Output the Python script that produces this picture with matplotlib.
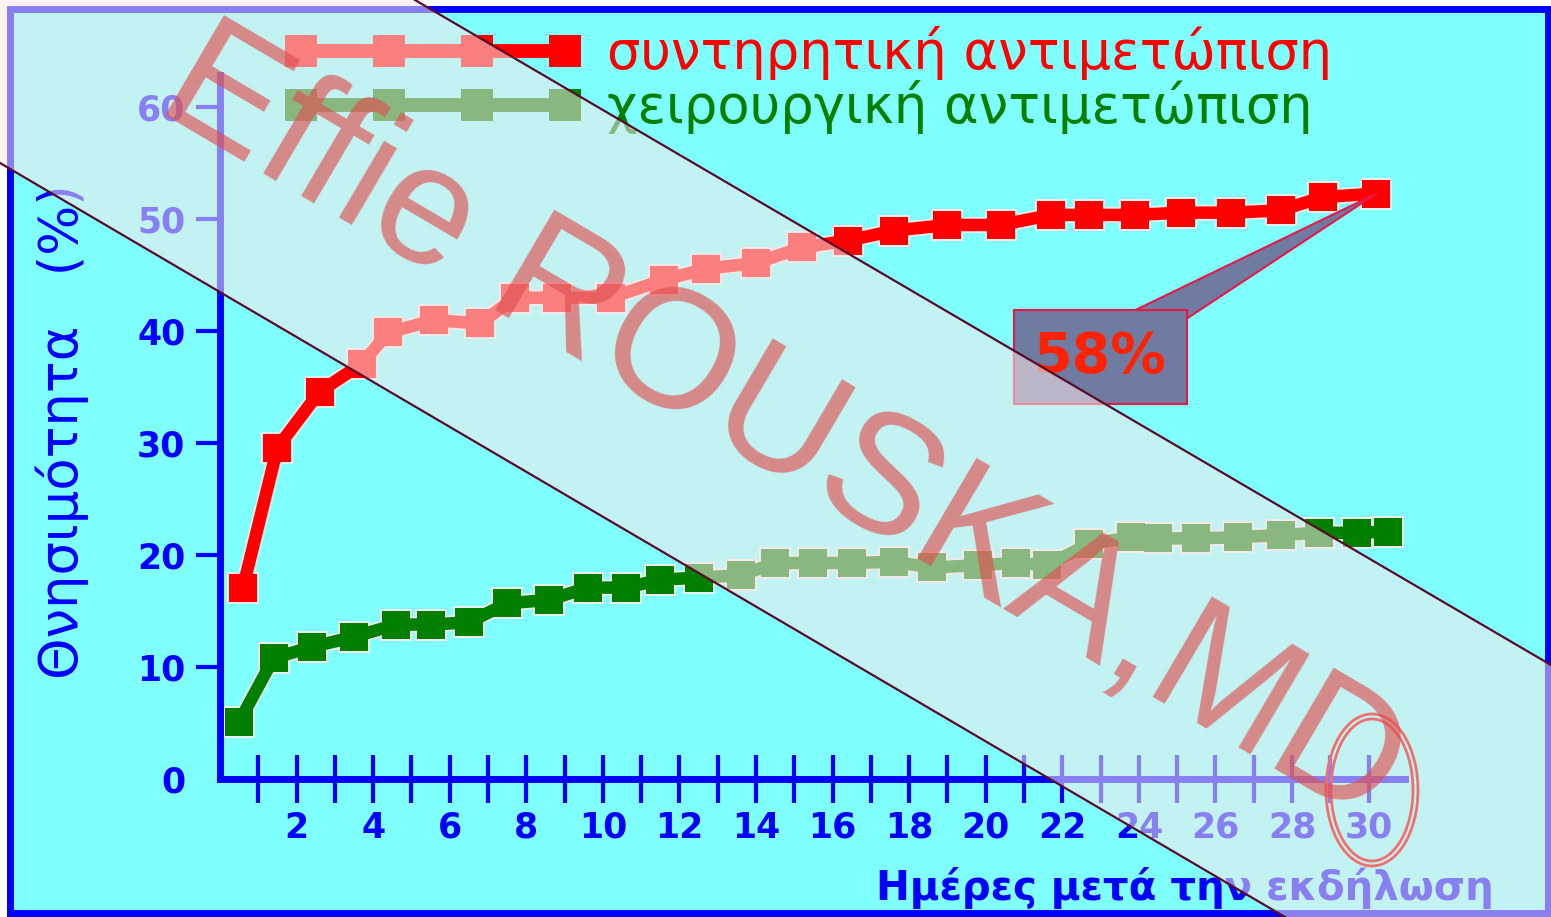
import matplotlib
matplotlib.use("Agg")
import matplotlib.pyplot as plt
from matplotlib.patches import Rectangle, Polygon, Ellipse
from matplotlib.lines import Line2D

# data
red_days = [0.6, 1.5, 2.6, 3.7, 4.4, 5.6, 6.8, 7.7, 8.8, 10.2, 11.6, 12.7, 14.0,
            15.2, 16.4, 17.6, 19.0, 20.4, 21.7, 22.7, 23.9, 25.1, 26.4, 27.7, 28.8, 30.2]
red_vals = [17.1, 29.6, 34.6, 37.1, 39.9, 41.0, 40.7, 43.0, 43.0, 43.0, 44.6, 45.6, 46.1,
            47.5, 48.1, 49.0, 49.5, 49.5, 50.4, 50.4, 50.4, 50.6, 50.6, 50.8, 52.0, 52.3]
green_days = [0.5, 1.4, 2.4, 3.5, 4.6, 5.5, 6.5, 7.5, 8.6, 9.6, 10.6, 11.5, 12.5, 13.6,
              14.5, 15.5, 16.5, 17.6, 18.6, 19.8, 20.8, 21.6, 22.7, 23.8, 24.5, 25.5,
              26.6, 27.7, 28.7, 29.7, 30.5]
green_vals = [5.1, 10.8, 11.8, 12.7, 13.8, 13.8, 14.0, 15.7, 16.0, 17.1, 17.1, 17.8, 18.0,
              18.2, 19.3, 19.3, 19.3, 19.4, 18.9, 19.1, 19.3, 19.1, 21.0, 21.6, 21.5, 21.5,
              21.6, 21.8, 22.0, 22.0, 22.1]
labels = ["συντηρητική αντιμετώπιση", "χειρουργική αντιμετώπιση"]
xticks = list(range(1, 31))
xticklabels = [str(d) if d % 2 == 0 else "" for d in xticks]
yticks = [0, 10, 20, 30, 40, 50, 60]
callout = "58%"

W, H = 1551, 917
BLUE = "#0000FF"
CYAN = "#80FFFF"
RED = "#FF0000"
GREEN = "#007F00"


def px(x, y):
    return (x / W, 1 - y / H)


fig = plt.figure(figsize=(W / 100, H / 100), dpi=100)
fig.patch.set_facecolor("white")

# cyan panel with blue frame
fig.add_artist(Rectangle(px(10, 913), 1538 / W, 904 / H, transform=fig.transFigure,
                         fc=CYAN, ec=BLUE, lw=5, zorder=-1))

ax = fig.add_axes([220 / W, 1 - 779 / H, 1185 / W, 704 / H])
ax.patch.set_visible(False)
for s in ["top", "right"]:
    ax.spines[s].set_visible(False)
for s in ["left", "bottom"]:
    ax.spines[s].set_color(BLUE)
    ax.spines[s].set_linewidth(5)

# light halo under each series, then the series itself
for d, v, c in [(red_days, red_vals, RED), (green_days, green_vals, GREEN)]:
    ax.plot(d, v, color="#ececec", lw=11.5, marker="s", ms=23, mew=0,
            clip_on=False, zorder=2)
l1, = ax.plot(red_days, red_vals, color=RED, lw=9, marker="s", ms=20, mew=0,
              clip_on=False, zorder=3)
l2, = ax.plot(green_days, green_vals, color=GREEN, lw=9, marker="s", ms=20, mew=0,
              clip_on=False, zorder=3)

ax.set_xlim(0, 30.95)
ax.set_ylim(0, 62.9)
ax.set_xticks(xticks)
ax.set_xticklabels(xticklabels)
ax.set_yticks(yticks)
ax.tick_params(axis="x", direction="inout", length=34, width=3, color=BLUE, pad=6,
               labelsize=25, labelcolor=BLUE)
ax.tick_params(axis="y", direction="out", length=17, width=3, color=BLUE, pad=8,
               labelsize=25, labelcolor=BLUE)
for t in ax.get_xticklabels() + ax.get_yticklabels():
    t.set_fontweight("bold")
ax.yaxis.get_major_ticks()[0].tick1line.set_visible(False)

ax.set_ylabel("Θνησιμότητα   (%)", fontsize=38, color=BLUE, va="center")
ax.yaxis.set_label_coords(-0.1333, 0.493)
ax.set_xlabel("Ημέρες μετά την εκδήλωση", fontsize=29, fontweight="bold", color=BLUE,
              va="center")
ax.xaxis.set_label_coords(0.814, -0.155)

leg = ax.legend([l1, l2], labels, loc="upper left", bbox_to_anchor=px(285, 26),
                bbox_transform=fig.transFigure, frameon=False, numpoints=4,
                handlelength=5.6, handletextpad=0.5, labelspacing=0.0,
                borderpad=0, borderaxespad=0, fontsize=38)
for t, c in zip(leg.get_texts(), [RED, GREEN]):
    t.set_color(c)
for ln in leg.get_lines():
    ln.set_linewidth(10)
    ln.set_markersize(23)

# callout box, the wedge starts inside the box so only its narrowing part shows
ax.annotate(callout, xy=(red_days[-1], red_vals[-1]), xytext=(23.0, 37.7),
            textcoords="data", ha="center", va="center", fontsize=40,
            fontweight="bold", color="#FF2200", zorder=6,
            bbox=dict(boxstyle="square,pad=0.36", fc="#6F7BA0", ec="#E8174A", lw=1.5),
            arrowprops=dict(arrowstyle="wedge,tail_width=0.7,shrink_factor=0.5",
                            fc="#6F7BA0", ec="#E8174A", lw=1.5, patchA=None,
                            relpos=(0.66, 0.85), shrinkA=0, shrinkB=0))

# watermark band
band = [px(0, 0), px(415, 0), px(1551, 665), px(1551, 917), px(1285, 917), px(0, 163)]
fig.add_artist(Polygon(band, closed=True, transform=fig.transFigure,
                       fc=(0.98, 0.91, 0.91), ec="none", alpha=0.55, zorder=10))
for (xa, ya), (xb, yb) in [((415, 0), (1551, 665)), ((0, 163), (1285, 917))]:
    fig.add_artist(Line2D([xa / W, xb / W], [1 - ya / H, 1 - yb / H],
                          transform=fig.transFigure, color="#5A0A2A", lw=1.6, zorder=11))
fig.text(782 / W, 1 - 428 / H, "Effie ROUSKA,MD", rotation=-30.5, rotation_mode="anchor",
         ha="center", va="center", fontsize=122, family="Liberation Sans",
         color="#E05050", alpha=0.65, zorder=12)
for w, h in [(92, 152), (82, 142)]:
    fig.add_artist(Ellipse(px(1372, 790), w / W, h / H, transform=fig.transFigure,
                           fill=False, ec="#F07070", lw=2, zorder=12))

fig.savefig("out.png", dpi=100)
